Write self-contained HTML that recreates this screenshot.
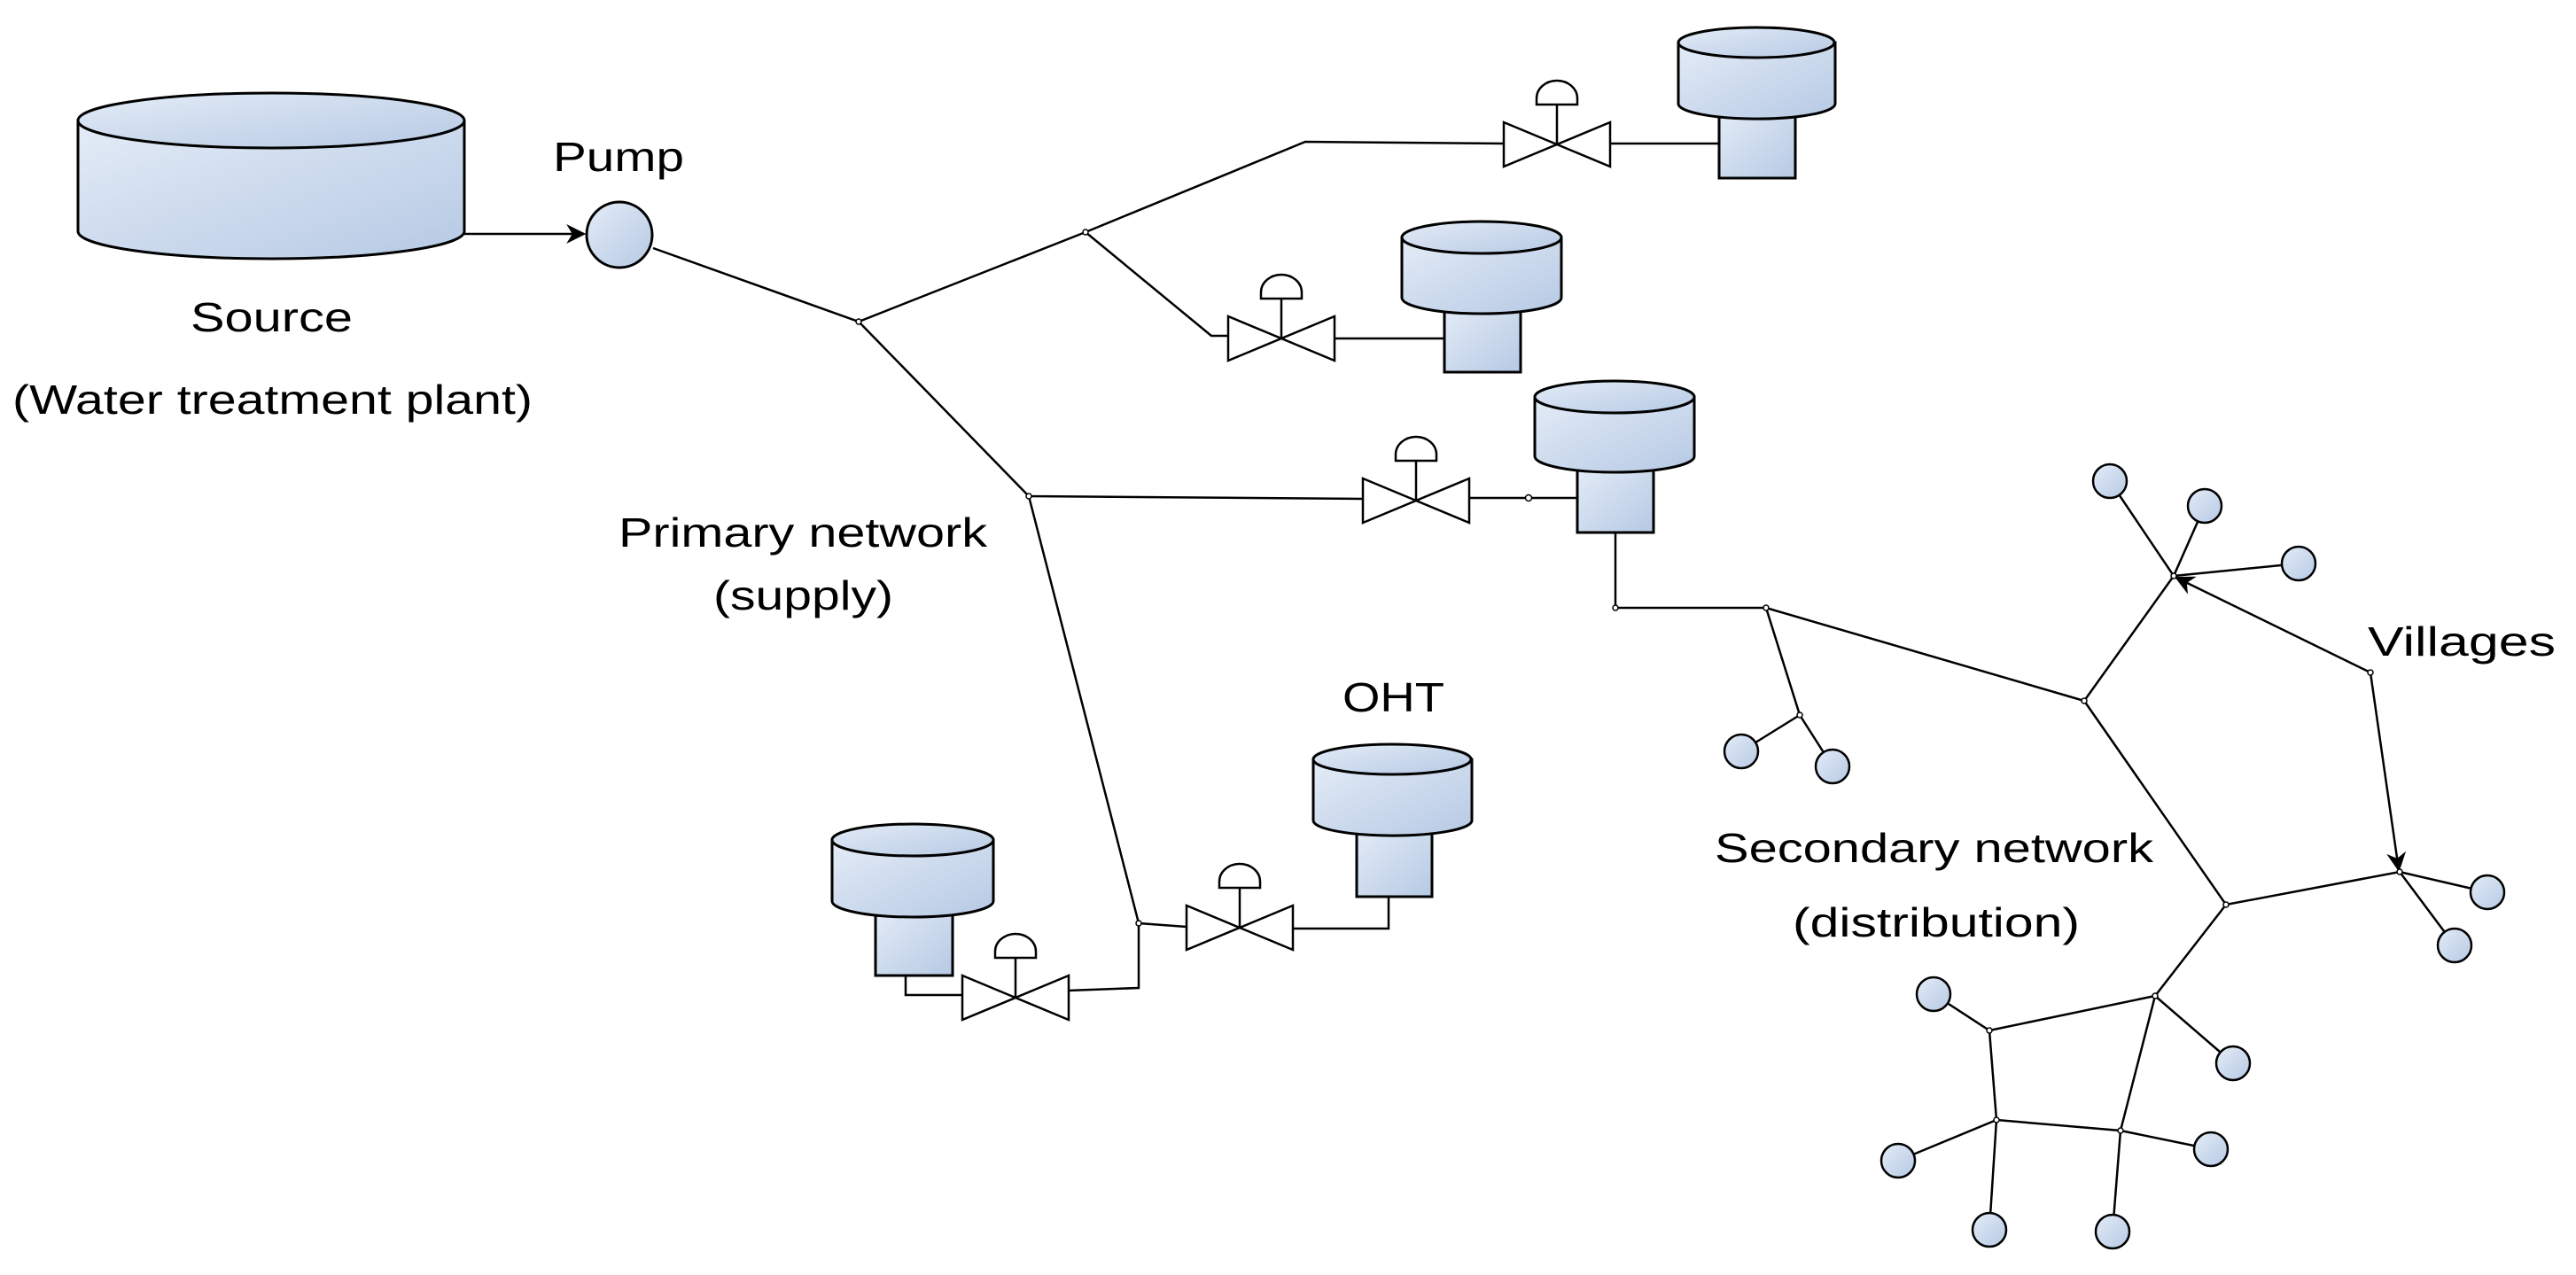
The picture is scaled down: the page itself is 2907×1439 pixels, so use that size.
<!DOCTYPE html>
<html><head><meta charset="utf-8"><style>html,body{margin:0;padding:0;background:#fff}svg{display:block}</style></head>
<body>
<svg width="2907" height="1439" viewBox="0 0 2907 1439" xmlns="http://www.w3.org/2000/svg">
<defs>
<linearGradient id="g" x1="0" y1="0" x2="1" y2="1"><stop offset="0" stop-color="#e4ecf7"/><stop offset="1" stop-color="#b6c9e4"/></linearGradient>
<marker id="ar" viewBox="0 0 20 20" refX="18" refY="10" markerWidth="22" markerHeight="22" markerUnits="userSpaceOnUse" orient="auto"><path d="M0,0 L20,10 L0,20 L6,10 Z" fill="#000"/></marker>
<g id="valve" fill="#fff" stroke="#000" stroke-width="2.5">
<polygon points="-60,-25 0,0 -60,25"/><polygon points="60,-25 0,0 60,25"/>
<line x1="0" y1="0" x2="0" y2="-45"/>
<path d="M-23,-45 L23,-45 L23,-52 A23,20 0 0 0 -23,-52 Z"/>
</g>
</defs>
<g fill="none" stroke="#000" stroke-width="2.5">
<polyline points="737,280 969,363 1225,262 1473,160 1698,162"/>
<line x1="1817" y1="162" x2="1940" y2="162"/>
<polyline points="1225,262 1367,379 1387,379"/>
<line x1="1505" y1="382" x2="1630" y2="382"/>
<polyline points="969,363 1161,560 1538,563"/>
<line x1="1658" y1="562" x2="1780" y2="562"/>
<polyline points="1161,560 1285,1042 1285,1115 1205,1118"/>
<line x1="1285" y1="1042" x2="1339" y2="1046"/>
<polyline points="1459,1048 1567,1048 1567,1012"/>
<polyline points="1087,1123 1022,1123 1022,1101"/>
<polyline points="1823,601 1823,686 1993,686 2352,791"/>
<polyline points="1993,686 2031,807 1965,848"/>
<line x1="2031" y1="807" x2="2068" y2="865"/>
<line x1="2352" y1="791" x2="2453" y2="650"/>
<line x1="2453" y1="650" x2="2381" y2="543"/>
<line x1="2453" y1="650" x2="2488" y2="571"/>
<line x1="2453" y1="650" x2="2594" y2="636"/>
<polyline points="2352,791 2512,1021 2708,984 2807,1007"/>
<line x1="2708" y1="984" x2="2770" y2="1067"/>
<polyline points="2512,1021 2432,1124 2245,1163 2182,1122"/>
<line x1="2432" y1="1124" x2="2520" y2="1200"/>
<polyline points="2432,1124 2393,1276 2253,1264 2245,1163"/>
<line x1="2393" y1="1276" x2="2495" y2="1297"/>
<line x1="2393" y1="1276" x2="2384" y2="1390"/>
<line x1="2253" y1="1264" x2="2142" y2="1310"/>
<line x1="2253" y1="1264" x2="2245" y2="1388"/>
<line x1="524" y1="264" x2="659" y2="264" marker-end="url(#ar)"/>
<line x1="2675" y1="759" x2="2456" y2="652" marker-end="url(#ar)"/>
<line x1="2675" y1="759" x2="2707" y2="982" marker-end="url(#ar)"/>
</g>
<g fill="#fff" stroke="#000" stroke-width="1.5">
<circle cx="969" cy="363" r="3"/><circle cx="1225" cy="262" r="3"/><circle cx="1161" cy="560" r="3"/>
<circle cx="1285" cy="1042" r="3"/><circle cx="1725" cy="562" r="3.5"/><circle cx="1823" cy="686" r="3"/>
<circle cx="1993" cy="686" r="3"/><circle cx="2031" cy="807" r="3"/><circle cx="2352" cy="791" r="3"/>
<circle cx="2453" cy="650" r="3"/><circle cx="2675" cy="759" r="3"/><circle cx="2512" cy="1021" r="3"/>
<circle cx="2708" cy="984" r="3"/><circle cx="2432" cy="1124" r="3"/><circle cx="2245" cy="1163" r="3"/>
<circle cx="2393" cy="1276" r="3"/><circle cx="2253" cy="1264" r="3"/>
</g>
<use href="#valve" transform="translate(1757,163)"/>
<use href="#valve" transform="translate(1446,382)"/>
<use href="#valve" transform="translate(1598,565)"/>
<use href="#valve" transform="translate(1146,1126)"/>
<use href="#valve" transform="translate(1399,1047)"/>
<g fill="url(#g)" stroke="#000" stroke-width="3">
<path d="M88,136 L88,261 A218,31 0 0 0 524,261 L524,136 Z"/>
<ellipse cx="306" cy="136" rx="218" ry="31"/>
<circle cx="699" cy="265" r="37"/>
<rect x="1940" y="125" width="86" height="76"/>
<path d="M1894,48 L1894,117 A88,17 0 0 0 2071,117 L2071,48 Z"/><ellipse cx="1982" cy="48" rx="88" ry="17"/>
<rect x="1630" y="345" width="86" height="75"/>
<path d="M1582,268 L1582,336 A90,18 0 0 0 1762,336 L1762,268 Z"/><ellipse cx="1672" cy="268" rx="90" ry="18"/>
<rect x="1780" y="524" width="86" height="77"/>
<path d="M1732,448 L1732,515 A90,18 0 0 0 1912,515 L1912,448 Z"/><ellipse cx="1822" cy="448" rx="90" ry="18"/>
<rect x="988" y="1026" width="87" height="75"/>
<path d="M939,948 L939,1017 A91,18 0 0 0 1121,1017 L1121,948 Z"/><ellipse cx="1030" cy="948" rx="91" ry="18"/>
<rect x="1531" y="935" width="85" height="77"/>
<path d="M1482,857 L1482,926 A89,17 0 0 0 1661,926 L1661,857 Z"/><ellipse cx="1571" cy="857" rx="89" ry="17"/>
</g>
<g fill="url(#g)" stroke="#000" stroke-width="2.5">
<circle cx="1965" cy="848" r="19"/><circle cx="2068" cy="865" r="19"/>
<circle cx="2381" cy="543" r="19"/><circle cx="2488" cy="571" r="19"/><circle cx="2594" cy="636" r="19"/>
<circle cx="2807" cy="1007" r="19"/><circle cx="2770" cy="1067" r="19"/>
<circle cx="2182" cy="1122" r="19"/><circle cx="2520" cy="1200" r="19"/>
<circle cx="2495" cy="1297" r="19"/><circle cx="2384" cy="1390" r="19"/>
<circle cx="2142" cy="1310" r="19"/><circle cx="2245" cy="1388" r="19"/>
</g>
<g font-family="Liberation Sans, Arial, sans-serif" font-size="46" fill="#000">
<text x="624" y="193" textLength="148" lengthAdjust="spacingAndGlyphs">Pump</text>
<text x="215" y="374" textLength="183" lengthAdjust="spacingAndGlyphs">Source</text>
<text x="14" y="467" textLength="587" lengthAdjust="spacingAndGlyphs">(Water treatment plant)</text>
<text x="698" y="617" textLength="416" lengthAdjust="spacingAndGlyphs">Primary network</text>
<text x="805" y="688" textLength="203" lengthAdjust="spacingAndGlyphs">(supply)</text>
<text x="1515" y="803" textLength="115" lengthAdjust="spacingAndGlyphs">OHT</text>
<text x="1935" y="973" textLength="495" lengthAdjust="spacingAndGlyphs">Secondary network</text>
<text x="2023" y="1057" textLength="324" lengthAdjust="spacingAndGlyphs">(distribution)</text>
<text x="2672" y="740" textLength="212" lengthAdjust="spacingAndGlyphs">Villages</text>
</g>
</svg>
</body></html>
